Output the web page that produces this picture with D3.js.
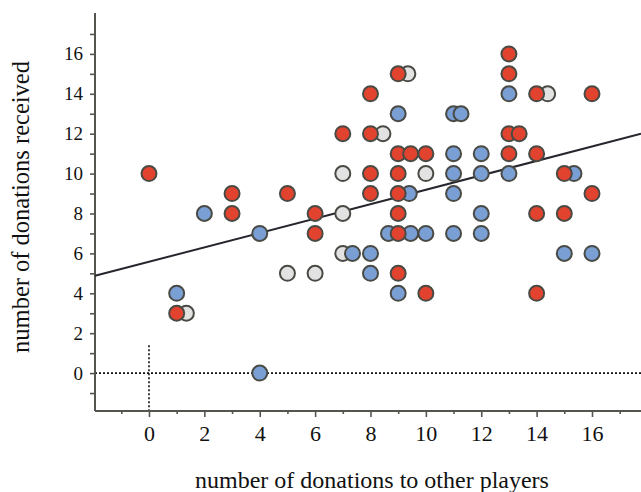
<!DOCTYPE html>
<html><head><meta charset="utf-8">
<script src="https://cdn.jsdelivr.net/npm/d3@7/dist/d3.min.js"></script>
<style>body{margin:0;background:#fff}svg{display:block}text{font-family:"Liberation Serif","Times New Roman",serif;fill:#111}</style>
</head><body><svg id="c" width="641" height="492"></svg>
<script>
// data: [x, y] = [donations to other players, donations received]
const greyPoints = [[1.35,3],[5,5],[6,5],[7,6],[7,8],[7,10],[8.45,12],[9.35,15],[10,10],[14.4,14]];
const bluePoints = [[1,4],[2,8],[4,7],[4,0],[7.35,6],[8,6],[8,5],[8.65,7],[9,13],[9.4,9],[9.45,7],[9,4],
  [10,7],[11,13],[11.27,13],[11,11],[11,10],[11,9],[11,7],[12,11],[12,10],[12,8],[12,7],[13,14],[13,10],
  [15.35,10],[15,6],[16,6]];
const redPoints = [[0,10],[1,3],[3,9],[3,8],[5,9],[6,8],[6,7],[7,12],[8,14],[8,12],[8,10],[8,9],
  [9,15],[9,11],[9.45,11],[10,11],[9,10],[9,9],[9,8],[9,7],[9,5],[10,4],
  [13,16],[13,15],[13,12],[13.37,12],[13,11],[14,14],[14,11],[14,8],[14,4],[15,10],[15,8],[16,14],[16,9]];
const xTickLabels = [0,2,4,6,8,10,12,14,16];
const yTickLabels = [0,2,4,6,8,10,12,14,16];
const fitLine = {intercept: 5.58, slope: 0.361};

const svg = d3.select("#c");
const x = d3.scaleLinear().domain([-1.95, 17.77]).range([95, 641]);
const y = d3.scaleLinear().domain([-1.9, 18.05]).range([411, 13]);
const axisColor = "#555550";

// dotted reference lines
svg.append("line").attr("x1", x(-1.95)).attr("x2", x(17.77)).attr("y1", y(0)).attr("y2", y(0))
  .attr("stroke", "#111").attr("stroke-width", 1.6).attr("stroke-dasharray", "2,2");
svg.append("line").attr("x1", x(0)).attr("x2", x(0)).attr("y1", y(1.4)).attr("y2", y(-1.9))
  .attr("stroke", "#111").attr("stroke-width", 1.6).attr("stroke-dasharray", "2,2");

// axes
const yMinor = d3.range(-1, 18);
const xMinor = d3.range(-1, 18, 2);
const yAxis = d3.axisLeft(y).tickValues(yMinor).tickSize(5).tickPadding(7)
  .tickFormat(d => yTickLabels.includes(d) ? d : "");
const gy = svg.append("g").attr("transform", `translate(${x(-1.95)},0)`).call(yAxis);
const xAxisMajor = d3.axisBottom(x).tickValues(xTickLabels).tickSize(6).tickPadding(8);
const gx = svg.append("g").attr("transform", `translate(0,${y(-1.9)})`).call(xAxisMajor);
const gx2 = svg.append("g").attr("transform", `translate(0,${y(-1.9)})`)
  .call(d3.axisBottom(x).tickValues(xMinor).tickSize(3).tickFormat(""));
[gx, gx2, gy].forEach(g => {
  g.select(".domain").attr("stroke", axisColor).attr("stroke-width", 2);
  g.selectAll(".tick line").attr("stroke", axisColor).attr("stroke-width", 1.6);
  g.selectAll(".tick text").style("font-family", '"Liberation Serif", serif').attr("fill", "#111");
});
gx2.select(".domain").remove();
gx.select(".domain").attr("d", `M${x(-1.95)},0H${x(17.77)}`);
gy.select(".domain").attr("d", `M0,${y(18.05)}V${y(-1.9)}`);
gx.selectAll(".tick text").style("font-size", "22px");
gy.selectAll(".tick text").style("font-size", "19px");

// regression line
svg.append("line")
  .attr("x1", x(-1.95)).attr("y1", y(fitLine.intercept + fitLine.slope * -1.95))
  .attr("x2", x(17.77)).attr("y2", y(fitLine.intercept + fitLine.slope * 17.77))
  .attr("stroke", "#26262e").attr("stroke-width", 2);

// points
const groups = [[greyPoints, "#e2e2e2"], [bluePoints, "#7a9fd5"], [redPoints, "#e2432f"]];
groups.forEach(([pts, col]) => {
  svg.append("g").selectAll("circle").data(pts).join("circle")
    .attr("cx", d => x(d[0])).attr("cy", d => y(d[1])).attr("r", 7.5)
    .attr("fill", col).attr("stroke", "#4a4a45").attr("stroke-width", 2);
});

// titles
svg.append("text").attr("x", 372).attr("y", 488).attr("text-anchor", "middle")
  .style("font-size", "24px").text("number of donations to other players");
svg.append("text").attr("transform", "translate(29,207) rotate(-90)").attr("text-anchor", "middle")
  .style("font-size", "24.5px").text("number of donations received");
</script></body></html>
